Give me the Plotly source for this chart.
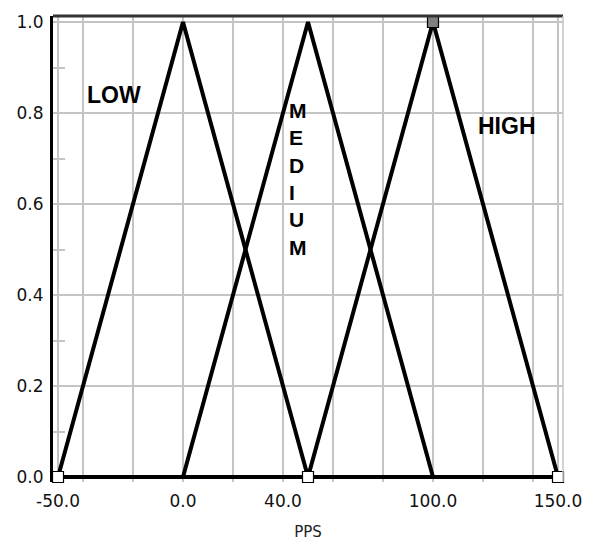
import plotly.graph_objects as go

# Membership function breakpoints (PPS) and degrees
pps = [-50, 0, 50, 100, 150]
low = [0, 1, 0, 0, 0]
medium = [0, 0, 1, 0, 0]
high = [0, 0, 0, 1, 0]

# Highlighted handle points
handle_x = [-50, 50, 150, 100]
handle_y = [0, 0, 0, 1]
handle_fill = ["white", "white", "white", "#808080"]

# Axis ticks
x_tickvals = [-50, -40, -20, 0, 20, 40, 60, 80, 100, 120, 140, 150]
x_ticktext = ["-50.0", "", "", "0.0", "", "40.0", "", "", "100.0", "", "", "150.0"]
y_tickvals = [0, 0.2, 0.4, 0.6, 0.8, 1.0]
y_ticktext = ["0.0", "0.2", "0.4", "0.6", "0.8", "1.0"]
y_minor = [0.1, 0.3, 0.5, 0.7, 0.9]

line_style = dict(color="black", width=4)

fig = go.Figure()
for name, vals in [("LOW", low), ("MEDIUM", medium), ("HIGH", high)]:
    fig.add_trace(go.Scatter(x=pps, y=vals, mode="lines", name=name,
                             line=line_style, hoverinfo="skip"))

fig.add_trace(go.Scatter(
    x=handle_x, y=handle_y, mode="markers", cliponaxis=False,
    marker=dict(symbol="square", size=11, color=handle_fill,
                line=dict(color="black", width=1.2)),
    hoverinfo="skip"))

tick_font = dict(family="DejaVu Sans", size=17, color="#111")
label_font = dict(family="Liberation Sans", size=23, color="black")

# The page body has an 8px margin, so the figure is sized/offset to compensate.
fig.update_layout(
    width=583, height=533,
    margin=dict(l=45, r=28, t=8, b=59),
    paper_bgcolor="white", plot_bgcolor="white",
    showlegend=False,
    xaxis=dict(
        range=[-52, 152], tickmode="array", tickvals=x_tickvals, ticktext=x_ticktext,
        showgrid=True, gridcolor="#c4c4c4", gridwidth=1.5,
        zeroline=False, showline=False, ticks="",
        tickfont=tick_font, ticklabelstandoff=7, automargin=False,
        title=dict(text="PPS", font=dict(family="DejaVu Sans", size=15, color="#222"),
                   standoff=19),
        fixedrange=True,
    ),
    yaxis=dict(
        range=[-0.011, 1.0132], tickmode="array", tickvals=y_tickvals, ticktext=y_ticktext,
        showgrid=True, gridcolor="#c4c4c4", gridwidth=1.5,
        zeroline=False, showline=True, linecolor="black", linewidth=3,
        ticks="", tickfont=tick_font, ticklabelstandoff=3, automargin=False,
        minor=dict(tickvals=y_minor, ticks="inside", ticklen=12,
                   tickcolor="#c4c4c4", tickwidth=1.5, showgrid=False),
        fixedrange=True,
    ),
    shapes=[
        dict(type="line", xref="paper", yref="paper", x0=0, x1=1, y0=1, y1=1,
             line=dict(color="#333", width=3)),
        dict(type="line", xref="paper", yref="paper", x0=1, x1=1, y0=0, y1=1,
             line=dict(color="#c4c4c4", width=1.5)),
    ],
    annotations=[
        dict(text="<b>LOW</b>", x=-27.5, y=0.84, xref="x", yref="y",
             showarrow=False, font=label_font),
        dict(text="<b>HIGH</b>", x=129.5, y=0.772, xref="x", yref="y",
             showarrow=False, font=label_font),
        dict(text="<b>M<br>E<br>D<br>I<br>U<br>M</b>", x=41.6, y=0.656, xref="x", yref="y",
             xanchor="left", align="left", showarrow=False,
             font=dict(family="Liberation Sans", size=21, color="black")),
    ],
)

fig.write_html("out.html")
